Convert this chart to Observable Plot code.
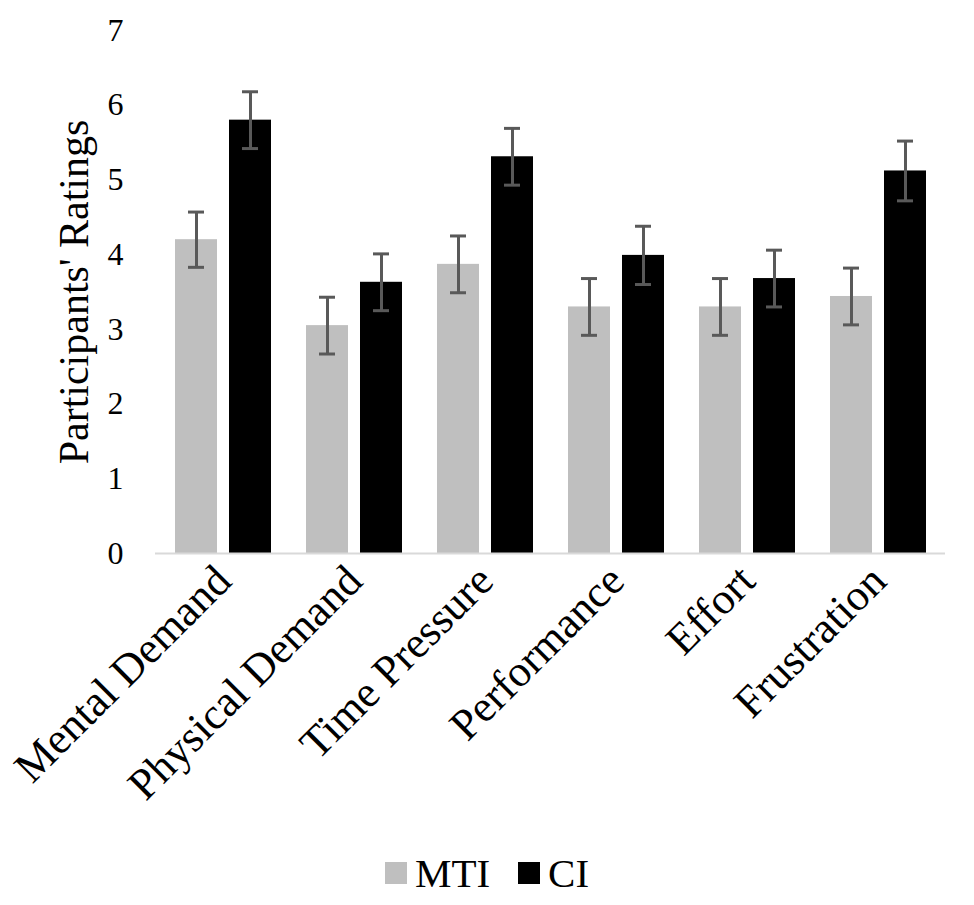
<!DOCTYPE html>
<html>
<head>
<meta charset="utf-8">
<script src="https://cdn.jsdelivr.net/npm/d3@7"></script>
<script src="https://cdn.jsdelivr.net/npm/@observablehq/plot@0.6"></script>
<style>
  body { margin: 0; background: #fff; font-family: "Liberation Serif", "Times New Roman", serif; }
  #legend { display: flex; justify-content: center; align-items: center; height: 66px; font-size: 41px; color: #000; padding-left: 0px; }
  #legend .sw { display: inline-block; width: 22px; height: 22px; margin-right: 8px; }
  #legend .item { display: flex; align-items: center; margin: 0 14px; }
</style>
</head>
<body>
<div id="chart"></div>
<div id="legend"></div>
<script>
const categories = ["Mental Demand", "Physical Demand", "Time Pressure", "Performance", "Effort", "Frustration"];
const seriesNames = ["MTI", "CI"];
const mti = [4.20, 3.05, 3.87, 3.30, 3.30, 3.44];
const mtiErr = [0.37, 0.38, 0.38, 0.38, 0.38, 0.38];
const ci = [5.80, 3.63, 5.31, 3.99, 3.68, 5.12];
const ciErr = [0.38, 0.38, 0.38, 0.39, 0.38, 0.40];
const yTicks = [0, 1, 2, 3, 4, 5, 6, 7];
const colors = ["#bfbfbf", "#000000"];

const mtiData = categories.map((c, i) => ({cat: c, v: mti[i], e: mtiErr[i]}));
const ciData = categories.map((c, i) => ({cat: c, v: ci[i], e: ciErr[i]}));

const font = "Liberation Serif, Times New Roman, serif";
const errColor = "#595959";

function errMarks(data, dx) {
  return [
    Plot.ruleX(data, {x: "cat", y1: d => d.v - d.e, y2: d => d.v + d.e, dx, stroke: errColor, strokeWidth: 3}),
    Plot.tickY(data, {x: "cat", y: d => d.v + d.e, dx, insetLeft: 40, insetRight: 40, stroke: errColor, strokeWidth: 3}),
    Plot.tickY(data, {x: "cat", y: d => d.v - d.e, dx, insetLeft: 40, insetRight: 40, stroke: errColor, strokeWidth: 3})
  ];
}

const chart = Plot.plot({
  width: 974,
  height: 840,
  marginLeft: 155,
  marginRight: 29,
  marginTop: 30,
  marginBottom: 287,
  style: {fontFamily: font, color: "#000", background: "#fff"},
  x: {domain: categories, paddingInner: 0.27, paddingOuter: 0.135, label: null},
  y: {domain: [0, 7], label: null},
  marks: [
    Plot.barY(mtiData, {x: "cat", y: "v", fill: colors[0], insetLeft: 0, insetRight: 54}),
    Plot.barY(ciData, {x: "cat", y: "v", fill: colors[1], insetLeft: 54, insetRight: 0}),
    ...errMarks(mtiData, -27),
    ...errMarks(ciData, 27),
    Plot.ruleY([0], {stroke: "#d9d9d9", strokeWidth: 2}),
    Plot.axisY({ticks: yTicks, tickFormat: d3.format("d"), tickSize: 0, tickPadding: 32, fontSize: 32, label: null, fill: "#000"}),
    Plot.axisY({ticks: [], tickSize: 0, label: "Participants' Ratings", labelAnchor: "center", labelArrow: "none", labelOffset: 97, fontSize: 42, fill: "#000"}),
    Plot.axisX({tickSize: 0, tickPadding: 20, tickRotate: -45, fontSize: 44, label: null, fill: "#000"})
  ]
});
document.getElementById("chart").appendChild(chart);

const legend = document.getElementById("legend");
seriesNames.forEach((name, i) => {
  const item = document.createElement("span");
  item.className = "item";
  const sw = document.createElement("span");
  sw.className = "sw";
  sw.style.background = colors[i];
  item.appendChild(sw);
  item.appendChild(document.createTextNode(name));
  legend.appendChild(item);
});
</script>
</body>
</html>
